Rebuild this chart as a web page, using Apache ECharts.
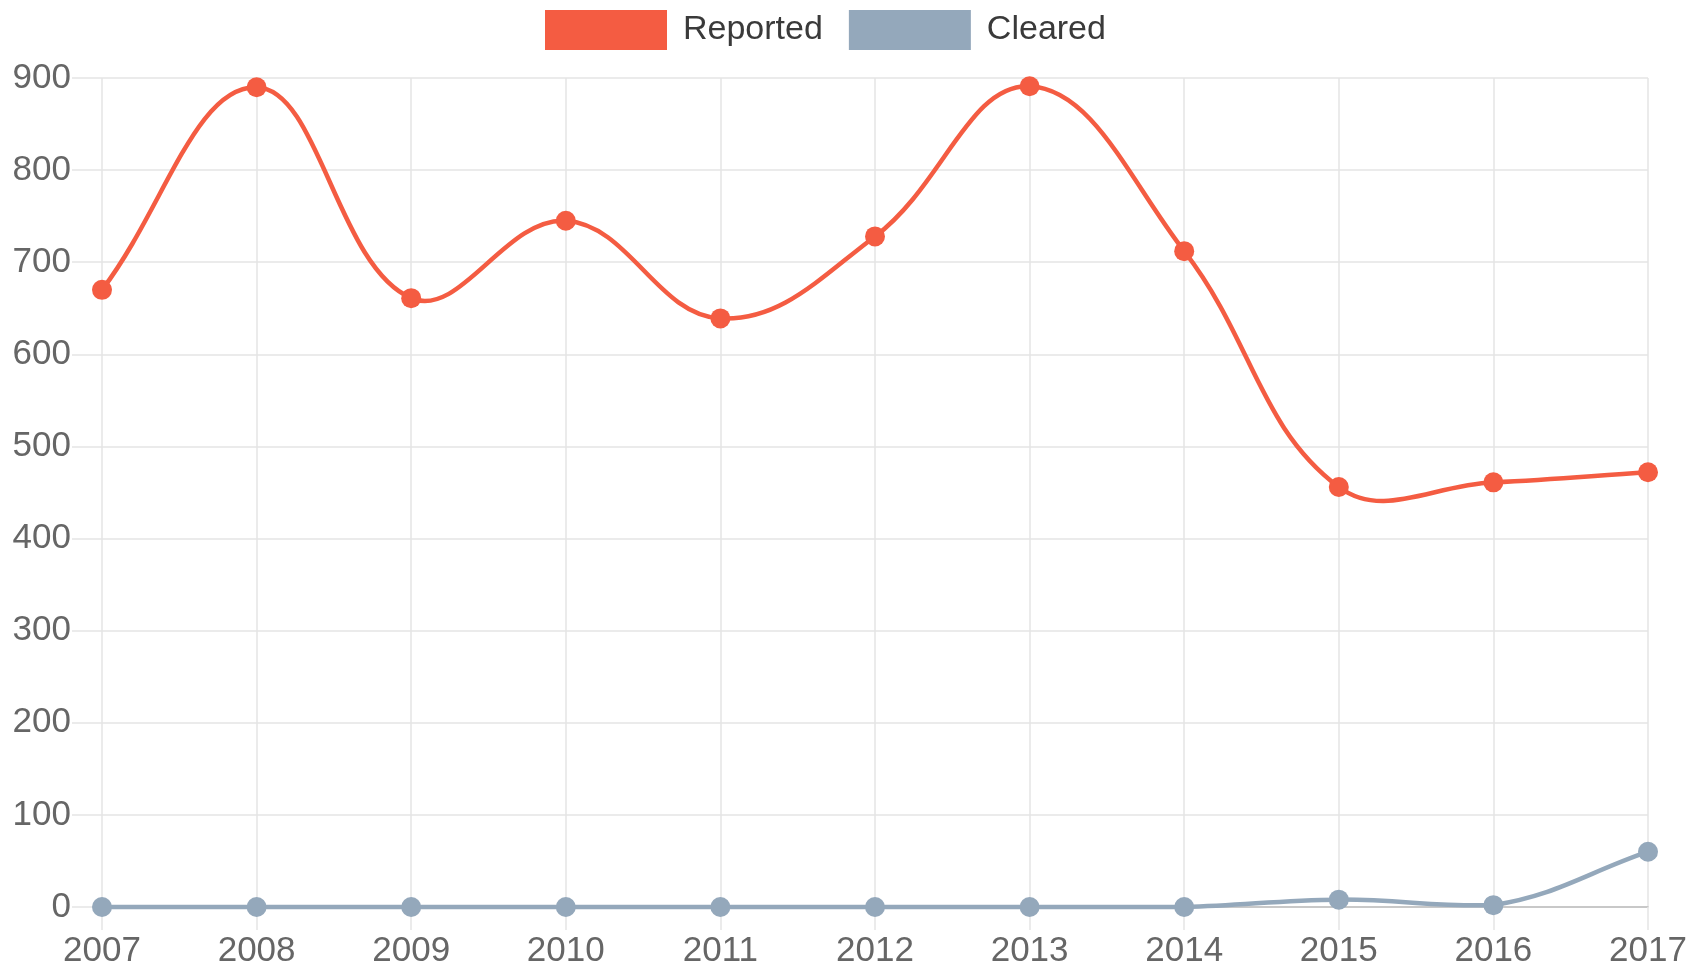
<!DOCTYPE html>
<html>
<head>
<meta charset="utf-8">
<title>Reported vs Cleared</title>
<script src="https://cdn.jsdelivr.net/npm/echarts@6/dist/echarts.min.js"></script>
<style>
  html, body { margin: 0; padding: 0; background: #ffffff; }
  #chart { width: 1703px; height: 972px; }
</style>
</head>
<body>
<div id="chart"></div>
<script>
// Yearly counts
const years = ['2007', '2008', '2009', '2010', '2011', '2012', '2013', '2014', '2015', '2016', '2017'];
const reported = [670, 890, 661, 745, 639, 728, 891, 712, 456, 461, 472];
const cleared = [0, 0, 0, 0, 0, 0, 0, 0, 8, 2, 60];

const RED = '#f45c42';
const BLUE = '#94a8bb';
const GRID = '#e5e5e5';
const FONT = '"Liberation Sans", Arial, Helvetica, sans-serif';
const TENSION = 0.4;

const chart = echarts.init(document.getElementById('chart'), null, { renderer: 'canvas' });

// Cardinal-style spline control points (distance weighted, unclamped except to the plot area)
function controlPoints(p0, p1, p2, t) {
  const d01 = Math.hypot(p1[0] - p0[0], p1[1] - p0[1]);
  const d12 = Math.hypot(p2[0] - p1[0], p2[1] - p1[1]);
  let s01 = d01 / (d01 + d12);
  let s12 = d12 / (d01 + d12);
  if (!isFinite(s01)) s01 = 0;
  if (!isFinite(s12)) s12 = 0;
  const fa = t * s01, fb = t * s12;
  return {
    prev: [p1[0] - fa * (p2[0] - p0[0]), p1[1] - fa * (p2[1] - p0[1])],
    next: [p1[0] + fb * (p2[0] - p0[0]), p1[1] + fb * (p2[1] - p0[1])]
  };
}

function curveSeries(name, values, color) {
  return {
    name: name,
    type: 'custom',
    data: values.map((v, i) => [i, v]),
    z: 2,
    silent: true,
    animation: false,
    renderItem: function (params, api) {
      const i = params.dataIndex;
      if (i >= values.length - 1) return null;
      const n = values.length;
      const pt = k => {
        const j = Math.max(0, Math.min(n - 1, k));
        return api.coord([j, values[j]]);
      };
      const a = pt(i - 1), b = pt(i), c = pt(i + 1), d = pt(i + 2);
      const lo = api.coord([0, 0]);
      const hi = api.coord([n - 1, 900]);
      const clamp = p => [Math.min(Math.max(p[0], lo[0]), hi[0]), Math.min(Math.max(p[1], hi[1]), lo[1])];
      const cb = clamp(controlPoints(a, b, c, TENSION).next);
      const cc = clamp(controlPoints(b, c, d, TENSION).prev);
      return {
        type: 'bezierCurve',
        shape: { x1: b[0], y1: b[1], x2: c[0], y2: c[1], cpx1: cb[0], cpy1: cb[1], cpx2: cc[0], cpy2: cc[1] },
        style: { stroke: color, lineWidth: 4.5, fill: null, lineCap: 'round' }
      };
    }
  };
}

function pointSeries(name, values, color) {
  return {
    name: name,
    type: 'line',
    data: values,
    z: 3,
    symbol: 'circle',
    symbolSize: 20,
    showSymbol: true,
    lineStyle: { width: 0, opacity: 0 },
    itemStyle: { color: color, borderWidth: 0 },
    emphasis: { disabled: true },
    animation: false
  };
}

chart.setOption({
  backgroundColor: '#ffffff',
  animation: false,
  textStyle: { fontFamily: FONT },
  legend: {
    left: 540,
    top: 5,
    icon: 'rect',
    itemWidth: 122,
    itemHeight: 40,
    itemGap: 26,
    selectedMode: false,
    textStyle: { fontSize: 34, color: '#3a3a3a', fontFamily: FONT, padding: [0, 0, 0, 11] },
    data: [
      { name: 'Reported', itemStyle: { color: RED } },
      { name: 'Cleared', itemStyle: { color: BLUE } }
    ]
  },
  grid: { left: 102, right: 55, top: 78, bottom: 65, containLabel: false },
  xAxis: {
    type: 'category',
    data: years,
    boundaryGap: false,
    axisLine: { show: true, lineStyle: { color: '#bdbdbd', width: 1.5 } },
    axisTick: { show: true, length: 23, alignWithLabel: true, lineStyle: { color: GRID, width: 1.5 } },
    axisLabel: { fontSize: 35, color: '#666', margin: 27, fontFamily: FONT },
    splitLine: { show: true, lineStyle: { color: GRID, width: 1.5 } }
  },
  yAxis: {
    type: 'value',
    min: 0,
    max: 900,
    interval: 100,
    axisLine: { show: false },
    axisTick: { show: true, length: 30, lineStyle: { color: GRID, width: 1.5 } },
    axisLabel: { fontSize: 35, color: '#666', margin: 31, fontFamily: FONT },
    splitLine: { show: true, lineStyle: { color: GRID, width: 1.5 } }
  },
  series: [
    curveSeries('Reported', reported, RED),
    curveSeries('Cleared', cleared, BLUE),
    pointSeries('Reported', reported, RED),
    pointSeries('Cleared', cleared, BLUE)
  ]
});
</script>
</body>
</html>
